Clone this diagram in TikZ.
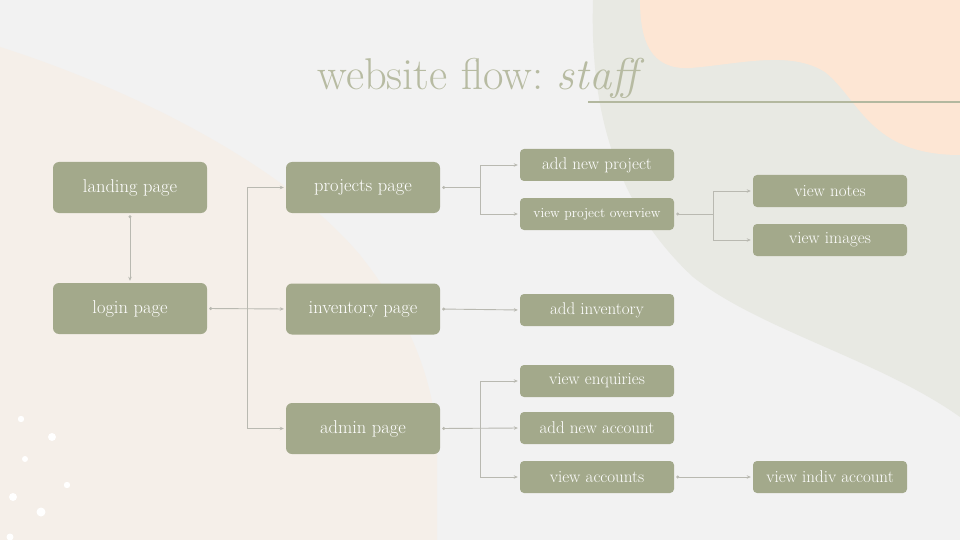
\documentclass[tikz,border=0pt]{standalone}
\usetikzlibrary{arrows.meta}
\definecolor{bgc}{HTML}{F2F2F2}
\definecolor{leftblob}{HTML}{F5EFE9}
\definecolor{peach}{HTML}{FDE6D4}
\definecolor{sage}{HTML}{E8E9E3}
\definecolor{boxc}{HTML}{A3A98B}
\definecolor{connc}{HTML}{B9B9B1}
\definecolor{titlec}{HTML}{B7BBA2}
\definecolor{linec}{HTML}{B3B89F}
\tikzset{
  bigbox/.style={fill=boxc, rounded corners=6pt, minimum width=154pt, minimum height=51pt, text=white, font=\fontsize{18.5}{22}\selectfont, inner sep=0pt},
  smallbox/.style={fill=boxc, rounded corners=4pt, minimum width=154pt, minimum height=32pt, text=white, font=\fontsize{17}{20}\selectfont, inner sep=0pt},
  conn/.style={draw=connc, line width=0.9pt, -{Stealth[length=4pt,width=3.5pt]}, shorten >=2pt},
  connline/.style={draw=connc, line width=0.9pt, {Circle[length=3pt]}-, shorten <=2pt},
  connboth/.style={draw=connc, line width=0.9pt, {Circle[length=3pt]}-{Stealth[length=4pt,width=3.5pt]}, shorten <=2pt, shorten >=2pt},
  dot/.style={fill=white, draw=none}
}
\begin{document}
\begin{tikzpicture}[x=1pt,y=-1pt]
\useasboundingbox (0,0) rectangle (960,540);
\fill[bgc] (0,0) rectangle (960,540);
% sage blob
\fill[sage] (593,0) .. controls (590,100) and (610,200) .. (693,277)
  .. controls (760,330) and (880,360) .. (960,417) -- (960,0) -- cycle;
% peach blob
\fill[peach] (640,0) .. controls (640,40) and (650,70) .. (690,68)
  .. controls (740,64) and (790,50) .. (825,72)
  .. controls (860,100) and (870,155) .. (960,155) -- (960,0) -- cycle;
% left blob
\fill[leftblob] (0,47) .. controls (120,85) and (280,160) .. (360,255)
  .. controls (420,330) and (437,400) .. (437,450) -- (437,540) -- (0,540) -- cycle;
% dots
\foreach \x/\y/\r in {21/419/3.2, 52/437/4, 25/459/3, 67/485/3.2, 13/497/4, 41/512/4.5, 10/537/3.5}
  \fill[dot] (\x,\y) circle (\r);
% title
\node[text=titlec, font=\fontsize{44.5}{50}\selectfont, anchor=base] (title) at (481,90) {\frenchspacing website flow: \textit{staff}};
\draw[linec, line width=1.8pt] (588,102) -- (960,102);
% boxes
\node[bigbox] (landing) at (130,187.5) {landing page};
\node[bigbox] (login) at (130,308.5) {login page};
\node[bigbox] (projects) at (363,187.5) {projects page};
\node[bigbox] (inventory) at (363,309) {inventory page};
\node[bigbox] (admin) at (363,428.5) {admin page};
\node[smallbox] (anp) at (597,165) {add new project};
\node[smallbox, font=\fontsize{13.7}{16}\selectfont] (vpo) at (597,214) {view project overview};
\node[smallbox] (notes) at (830,191) {view notes};
\node[smallbox] (images) at (830,240) {view images};
\node[smallbox] (addinv) at (597,310) {add inventory};
\node[smallbox] (enq) at (597,381) {view enquiries};
\node[smallbox] (newacc) at (597,428) {add new account};
\node[smallbox] (vacc) at (597,477) {view accounts};
\node[smallbox] (indiv) at (830,477) {view indiv account};
% connectors
\draw[connboth] (landing.south) -- (login.north);
\coordinate (j1) at (247,308.5);
\draw[connboth] (login.east) -- (inventory.west);
\draw[conn] (j1) |- (projects.west);
\draw[conn] (j1) |- (admin.west);
\coordinate (j2) at (480,187.5);
\draw[connline] (projects.east) -- (j2);
\draw[conn] (j2) |- (anp.west);
\draw[conn] (j2) |- (vpo.west);
\coordinate (j3) at (713,214);
\draw[connline] (vpo.east) -- (j3);
\draw[conn] (j3) |- (notes.west);
\draw[conn] (j3) |- (images.west);
\draw[connboth] (inventory.east) -- (addinv.west);
\coordinate (j4) at (480,428.5);
\draw[connboth] (admin.east) -- (newacc.west);
\draw[conn] (j4) |- (enq.west);
\draw[conn] (j4) |- (vacc.west);
\draw[connboth] (vacc.east) -- (indiv.west);
\end{tikzpicture}
\end{document}
